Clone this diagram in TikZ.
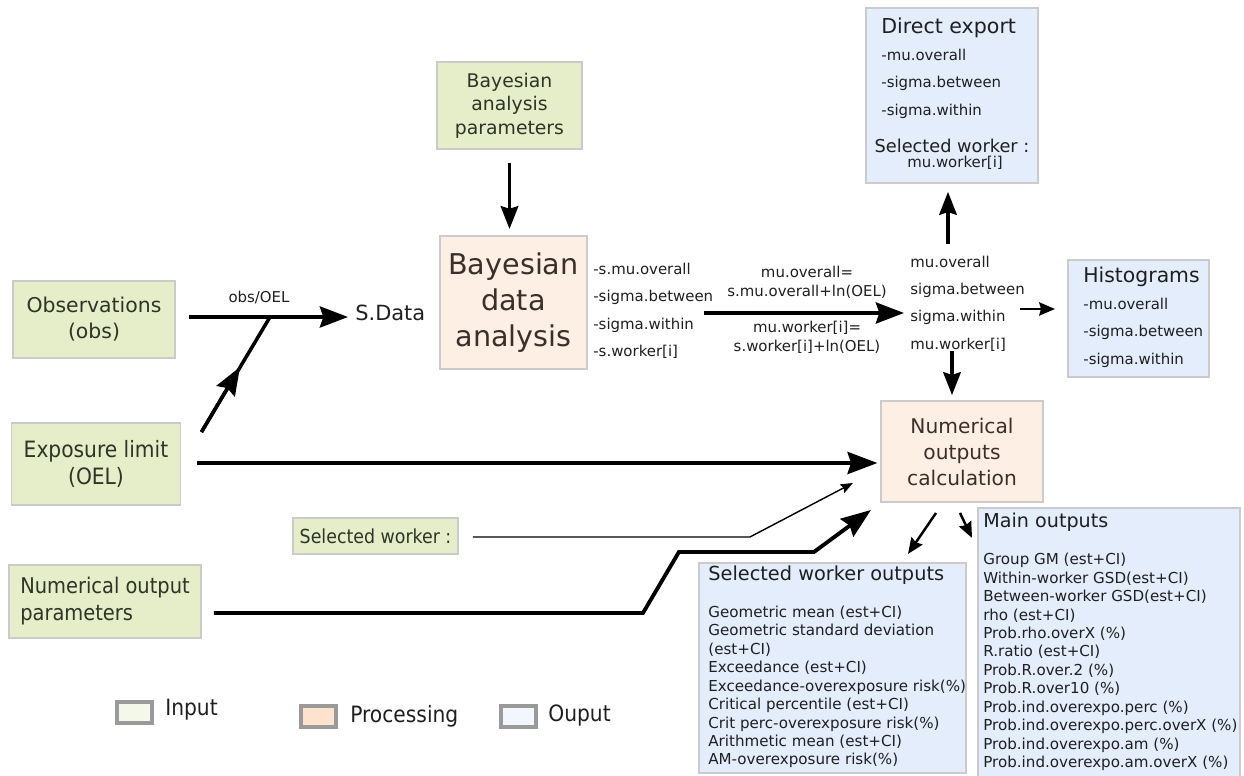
\documentclass[tikz,border=0pt]{standalone}
\usepackage{fontspec}
\setmainfont{DejaVu Sans}
\newfontfamily\condfont{DejaVu Sans Condensed}
\usetikzlibrary{arrows.meta,positioning}
\definecolor{ingreen}{HTML}{E5EDC9}
\definecolor{procpeach}{HTML}{FDEFE4}
\definecolor{outblue}{HTML}{E3EDFC}
\definecolor{boxline}{HTML}{CBCBCB}
\definecolor{swgrey}{HTML}{9A9A9A}
\definecolor{swin}{HTML}{F4F8E9}
\definecolor{swproc}{HTML}{FDE2CD}
\definecolor{swout}{HTML}{F2F6FD}
\definecolor{intext}{HTML}{2E3426}
\definecolor{proctext}{HTML}{3B2F2A}
\newcommand{\fs}[2]{\fontsize{#1}{#2}\selectfont}

\begin{document}
\begin{tikzpicture}[x=0.02cm, y=-0.02cm,
    inbox/.style={draw=boxline, line width=1.1pt, fill=ingreen, text=intext,
      align=center, inner sep=0pt},
    procbox/.style={inbox, fill=procpeach, text=proctext},
    outbox/.style={inbox, fill=outblue},
    swatch/.style={draw=swgrey, line width=1.8pt, minimum width=0.7cm,
      minimum height=0.42cm, inner sep=0pt},
    lbl/.style={inner sep=0pt, text=black!88},
    small/.style={lbl, font=\fs{8.5}{15.6}, align=left},
    biglist/.style={lbl, font=\fs{8.6}{10.5}, align=left},
    arr/.style={-{Stealth[length=16pt, width=12pt, inset=2pt]}, line width=2pt},
    arrmid/.style={-{Stealth[length=13pt, width=10pt, inset=1.5pt]}, line width=1.9pt},
    arrsmall/.style={-{Stealth[length=9pt, width=7.5pt, inset=1pt]}, line width=1.4pt},
    arrbig/.style={-{Stealth[length=17pt, width=12.5pt, inset=2pt]}, line width=2.4pt},
    arrthin/.style={-{Stealth[length=7pt, width=5.5pt, inset=1pt]}, line width=0.8pt},
  ]
  \useasboundingbox (0,0) rectangle (1244,776);

  % Inputs
  \node[inbox, minimum width=3.24cm, minimum height=1.54cm, font=\fs{11.6}{14.8}]
    (obs) at (94,319.5) {Observations\\(obs)};
  \node[inbox, minimum width=3.38cm, minimum height=1.64cm, font=\condfont\fs{12.8}{15.4}]
    (oel) at (96,464) {Exposure limit\\(OEL)};
  \node[inbox, minimum width=3.84cm, minimum height=1.46cm, align=left,
    font=\condfont\fs{12.3}{15.4}]
    (nop) at (105,601.5) {Numerical output\\parameters};
  \node[inbox, minimum width=3.3cm, minimum height=0.72cm, font=\condfont\fs{11}{13}]
    (selw) at (375.5,536) {Selected worker :};
  \node[inbox, minimum width=2.9cm, minimum height=1.74cm, font=\fs{10.7}{13.4}]
    (bap) at (509.5,105.5) {Bayesian\\analysis\\parameters};

  % Processing
  \node[procbox, minimum width=2.94cm, minimum height=2.66cm, font=\fs{16.3}{20.5}]
    (bda) at (513.5,302.5) {Bayesian\\data\\analysis};
  \node[procbox, minimum width=3.24cm, minimum height=2.02cm, font=\fs{11.5}{14.8}]
    (noc) at (962,451.5) {Numerical\\outputs\\calculation};

  % Outputs
  \node[outbox, minimum width=3.44cm, minimum height=3.5cm] (dexp) at (952,95.5) {};
  \node[outbox, minimum width=2.82cm, minimum height=2.34cm] (hist) at (1138.5,318.5) {};
  \node[outbox, minimum width=5.24cm, minimum height=5.4cm] (mout) at (1109,643) {};
  \node[outbox, minimum width=5.34cm, minimum height=4.2cm] (swout) at (832.5,668) {};

  % Texts
  \node[lbl, font=\fs{8.5}{10}] (ratio) at (259,298) {obs/OEL};
  \node[lbl, anchor=west, font=\fs{11.9}{14}] (sdata) at (355,313) {S.Data};
  \node[small, anchor=west] (bdalist) at (593,311)
    {-s.mu.overall\\-sigma.between\\-sigma.within\\-s.worker[i]};
  \node[lbl, align=center, font=\fs{8.5}{10.8}] (eqmu) at (807,282)
    {mu.overall=\\s.mu.overall+ln(OEL)};
  \node[lbl, align=center, font=\fs{8.5}{10.8}] (eqwk) at (807,337.5)
    {mu.worker[i]=\\s.worker[i]+ln(OEL)};
  \node[small, anchor=west] (midlist) at (910,303.5)
    {mu.overall\\sigma.between\\sigma.within\\mu.worker[i]};

  \node[lbl, anchor=west, font=\fs{11.7}{14}] (dexpt) at (881,28) {Direct export};
  \node[small, anchor=west] (dexpl) at (881,83.5)
    {-mu.overall\\-sigma.between\\-sigma.within};
  \node[lbl, font=\fs{10.1}{12}] (dexpw) at (952,146) {Selected worker :};
  \node[lbl, font=\fs{8.5}{10}] (dexpm) at (955,163) {mu.worker[i]};

  \node[lbl, anchor=west, font=\fs{11.6}{14}] (histt) at (1083,277) {Histograms};
  \node[small, anchor=west] (histl) at (1083,332.5)
    {-mu.overall\\-sigma.between\\-sigma.within};

  \node[lbl, anchor=west, font=\fs{10.9}{13}] (moutt) at (983,522) {Main outputs};
  \node[biglist, anchor=west] (moutl) at (983,662)
    {Group GM (est+CI)\\Within-worker GSD(est+CI)\\Between-worker GSD(est+CI)\\
     rho (est+CI)\\Prob.rho.overX (\%)\\R.ratio (est+CI)\\Prob.R.over.2 (\%)\\
     Prob.R.over10 (\%)\\Prob.ind.overexpo.perc (\%)\\Prob.ind.overexpo.perc.overX (\%)\\
     Prob.ind.overexpo.am (\%)\\Prob.ind.overexpo.am.overX (\%)};

  \node[lbl, anchor=west, font=\fs{11}{13}] (swoutt) at (708,575) {Selected worker outputs};
  \node[biglist, anchor=west] (swoutl) at (708,687)
    {Geometric mean (est+CI)\\Geometric standard deviation\\(est+CI)\\
     Exceedance (est+CI)\\Exceedance-overexposure risk(\%)\\Critical percentile (est+CI)\\
     Crit perc-overexposure risk(\%)\\Arithmetic mean (est+CI)\\AM-overexposure risk(\%)};

  % Legend
  \node[swatch, fill=swin] (kin) at (134.5,712.5) {};
  \node[lbl, anchor=west, font=\condfont\fs{12.8}{14}] (kint) at (165,710) {Input};
  \node[swatch, fill=swproc] (kproc) at (318.5,716.5) {};
  \node[lbl, anchor=west, font=\condfont\fs{12.8}{14}] (kproct) at (350,716) {Processing};
  \node[swatch, fill=swout] (kout) at (518.5,716.5) {};
  \node[lbl, anchor=west, font=\condfont\fs{12.8}{14}] (koutt) at (548,715) {Ouput};

  % Arrows
  \coordinate (oj) at (270,317);
  \coordinate (om) at (240,367);
  \draw[arr] (obs.east) ++(13,-2.5) -- ++(159,0);
  \draw[line width=2pt] (oel.north east) ++(20,10) -- (oj);
  \draw[arr] (oel.north east) ++(20,10) -- (om);
  \draw[arrmid] (bap.south) ++(0,13) -- ++(0,66);
  \draw[arr] (bda.east) ++(116,10.5) -- ++(200,0);
  \draw[arrmid] (dexp.south) ++(-4,60) -- ++(0,-52);
  \draw[arrsmall] (hist.west) ++(-47,-9.5) -- ++(35,0);
  \draw[arrmid] (noc.north) ++(-10,-49) -- ++(0,44);
  \draw[arrbig] (oel.east) ++(16,-1) -- ++(680,0);
  \draw[arrthin] (selw.east) ++(14,1) -- ++(277,0) -- ++(103,-54);
  \draw[arrbig, line width=2.2pt] (nop.east) ++(12,11.5) -- ++(429,0) -- ++(36,-61)
    -- ++(135,0) -- ++(57,-42);
  \draw[arrsmall] (noc.south) ++(-26,10) -- ++(-28,41);
  \draw[arrsmall] (noc.south) ++(-2,10) -- ++(12,25);
\end{tikzpicture}
\end{document}
